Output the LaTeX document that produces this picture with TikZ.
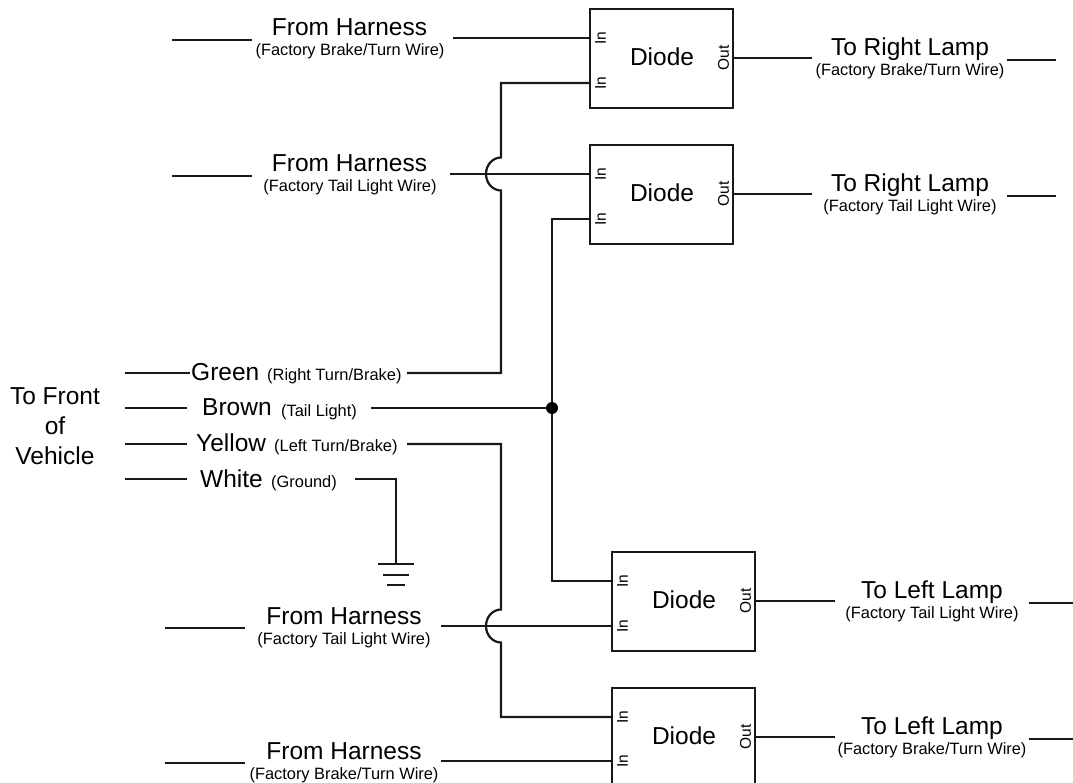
\documentclass[tikz,border=0pt]{standalone}
\usepackage{fontspec}
\setmainfont{Liberation Sans}
\tikzset{
  wire/.style={line width=2.2pt,line cap=butt,line join=miter,draw=black!90},
  diode/.style={draw=black!90,line width=2.2pt,fill=white,minimum width=143pt,minimum height=99pt,inner sep=0pt,outer sep=0pt},
  dname/.style={font=\fontsize{24.5}{26}\selectfont,inner sep=0pt},
  port/.style={font=\fontsize{15.5}{17}\selectfont,rotate=90,inner sep=0pt},
  big/.style={font=\fontsize{24.5}{26}\selectfont,inner sep=0pt,anchor=base},
  bigl/.style={font=\fontsize{24.5}{26}\selectfont,inner sep=0pt,anchor=base west},
  small/.style={font=\fontsize{16.4}{18}\selectfont,inner sep=0pt,anchor=base},
  smalll/.style={font=\fontsize{16.4}{18}\selectfont,inner sep=0pt,anchor=base west},
}
\begin{document}
\begin{tikzpicture}[x=1pt,y=-1pt]
\useasboundingbox (0,0) rectangle (1073,783);
\clip (0,0) rectangle (1073,783);
% boxes
\node[diode] (d1) at (661.5,58.5) {};
\node[diode] (d2) at (661.5,194.5) {};
\node[diode] (d3) at (683.5,601.5) {};
\node[diode] (d4) at (683.5,737.5) {};
\node[dname] (d1t) at (662,57) {Diode};
\node[dname] (d2t) at (662,193) {Diode};
\node[dname] (d3t) at (684,600) {Diode};
\node[dname] (d4t) at (684,736) {Diode};
% port labels
\node[port] (p1a) at (600.5,38) {In};
\node[port] (p1b) at (600.5,83) {In};
\node[port] (p1o) at (723.5,58) {Out};
\node[port] (p2a) at (600.5,174) {In};
\node[port] (p2b) at (600.5,219) {In};
\node[port] (p2o) at (723.5,194) {Out};
\node[port] (p3a) at (622.5,581) {In};
\node[port] (p3b) at (622.5,626) {In};
\node[port] (p3o) at (745.5,601) {Out};
\node[port] (p4a) at (622.5,717) {In};
\node[port] (p4b) at (622.5,761) {In};
\node[port] (p4o) at (745.5,737) {Out};
% labels
\node[big] (h1) at (349.5,36) {From Harness};
\node[small] (h1s) at (350,56) {(Factory Brake/Turn Wire)};
\node[big] (h2) at (349.5,172) {From Harness};
\node[small] (h2s) at (350,192) {(Factory Tail Light Wire)};
\node[big] (h3) at (344,624) {From Harness};
\node[small] (h3s) at (344,644) {(Factory Tail Light Wire)};
\node[big] (h4) at (344,759) {From Harness};
\node[small] (h4s) at (344,779) {(Factory Brake/Turn Wire)};
\node[big] (r1) at (910,56) {To Right Lamp};
\node[small] (r1s) at (910,76) {(Factory Brake/Turn Wire)};
\node[big] (r2) at (910,192) {To Right Lamp};
\node[small] (r2s) at (910,212) {(Factory Tail Light Wire)};
\node[big] (l3) at (932,598) {To Left Lamp};
\node[small] (l3s) at (932,618) {(Factory Tail Light Wire)};
\node[big] (l4) at (932,734) {To Left Lamp};
\node[small] (l4s) at (932,754) {(Factory Brake/Turn Wire)};
\node[big] (f1) at (55,404) {To Front};
\node[big] (f2) at (55,434) {of};
\node[big] (f3) at (55,464) {Vehicle};
\node[bigl] (c1) at (191,381) {Green};
\node[smalll] (c1s) at (267,380) {(Right Turn/Brake)};
\node[bigl] (c2) at (202,415) {Brown};
\node[smalll] (c2s) at (281,416) {(Tail Light)};
\node[bigl] (c3) at (196,451) {Yellow};
\node[smalll] (c3s) at (274,451) {(Left Turn/Brake)};
\node[bigl] (c4) at (200,487) {White};
\node[smalll] (c4s) at (271,487) {(Ground)};
% free ends
\foreach \n/\x/\y in {a1/172/40,a2/252/40,a3/453/38,
  b1/172/176,b2/252/176,b3/450/174,
  e1/165/628,e2/245/628,e3/441/626,
  g1/165/763,g2/245/763,g3/441/761,
  o1a/812/58,o1b/1007/60,o1c/1056/60,
  o2a/812/194,o2b/1007/196,o2c/1056/196,
  o3a/835/601,o3b/1029/603,o3c/1073/603,
  o4a/835/737,o4b/1029/739,o4c/1073/739,
  gr1/125/373,gr2/190/373,gr3/407/373,gr4/501/373,
  br1/125/408,br2/187/408,br3/371/408,
  ye1/125/444,ye2/187/444,ye3/407/444,ye4/501/444,
  wh1/125/479,wh2/187/479,wh3/355/479,wh4/396/479,wh5/396/564,
  t1/552/219,t2/552/581,
  k1/501/83,k2/501/157.5,k3/501/190.5,
  k4/501/609.5,k5/501/642.5,k6/501/717,
  n1a/378/564,n1b/414/564,n2a/383/575,n2b/409/575,n3a/387/585,n3b/405/585}
  {\coordinate (\n) at (\x,\y);}
\coordinate (jn) at (552,408);
% wires
\draw[wire] (a1) -- (a2);
\draw[wire] (a3) -- (d1.west |- a3);
\draw[wire] (b1) -- (b2);
\draw[wire] (b3) -- (d2.west |- b3);
\draw[wire] (e1) -- (e2);
\draw[wire] (e3) -- (d3.west |- e3);
\draw[wire] (g1) -- (g2);
\draw[wire] (g3) -- (d4.west |- g3);
\draw[wire] (d1.east |- o1a) -- (o1a);
\draw[wire] (o1b) -- (o1c);
\draw[wire] (d2.east |- o2a) -- (o2a);
\draw[wire] (o2b) -- (o2c);
\draw[wire] (d3.east |- o3a) -- (o3a);
\draw[wire] (o3b) -- (o3c);
\draw[wire] (d4.east |- o4a) -- (o4a);
\draw[wire] (o4b) -- (o4c);
\draw[wire] (gr1) -- (gr2);
\draw[wire] (gr3) -- (gr4) -- (k3) arc[start angle=90,end angle=270,x radius=15,y radius=16.5] -- (k1) -- (d1.west |- k1);
\draw[wire] (br1) -- (br2);
\draw[wire] (br3) -- (jn);
\draw[wire] (d2.west |- t1) -- (t1) -- (t2) -- (d3.west |- t2);
\fill[black] (jn) circle[radius=6];
\draw[wire] (ye1) -- (ye2);
\draw[wire] (ye3) -- (ye4) -- (k4) arc[start angle=270,end angle=90,x radius=15,y radius=16.5] -- (k6) -- (d4.west |- k6);
\draw[wire] (wh1) -- (wh2);
\draw[wire] (wh3) -- (wh4) -- (wh5);
\draw[wire] (n1a) -- (n1b);
\draw[wire] (n2a) -- (n2b);
\draw[wire] (n3a) -- (n3b);
\end{tikzpicture}
\end{document}
